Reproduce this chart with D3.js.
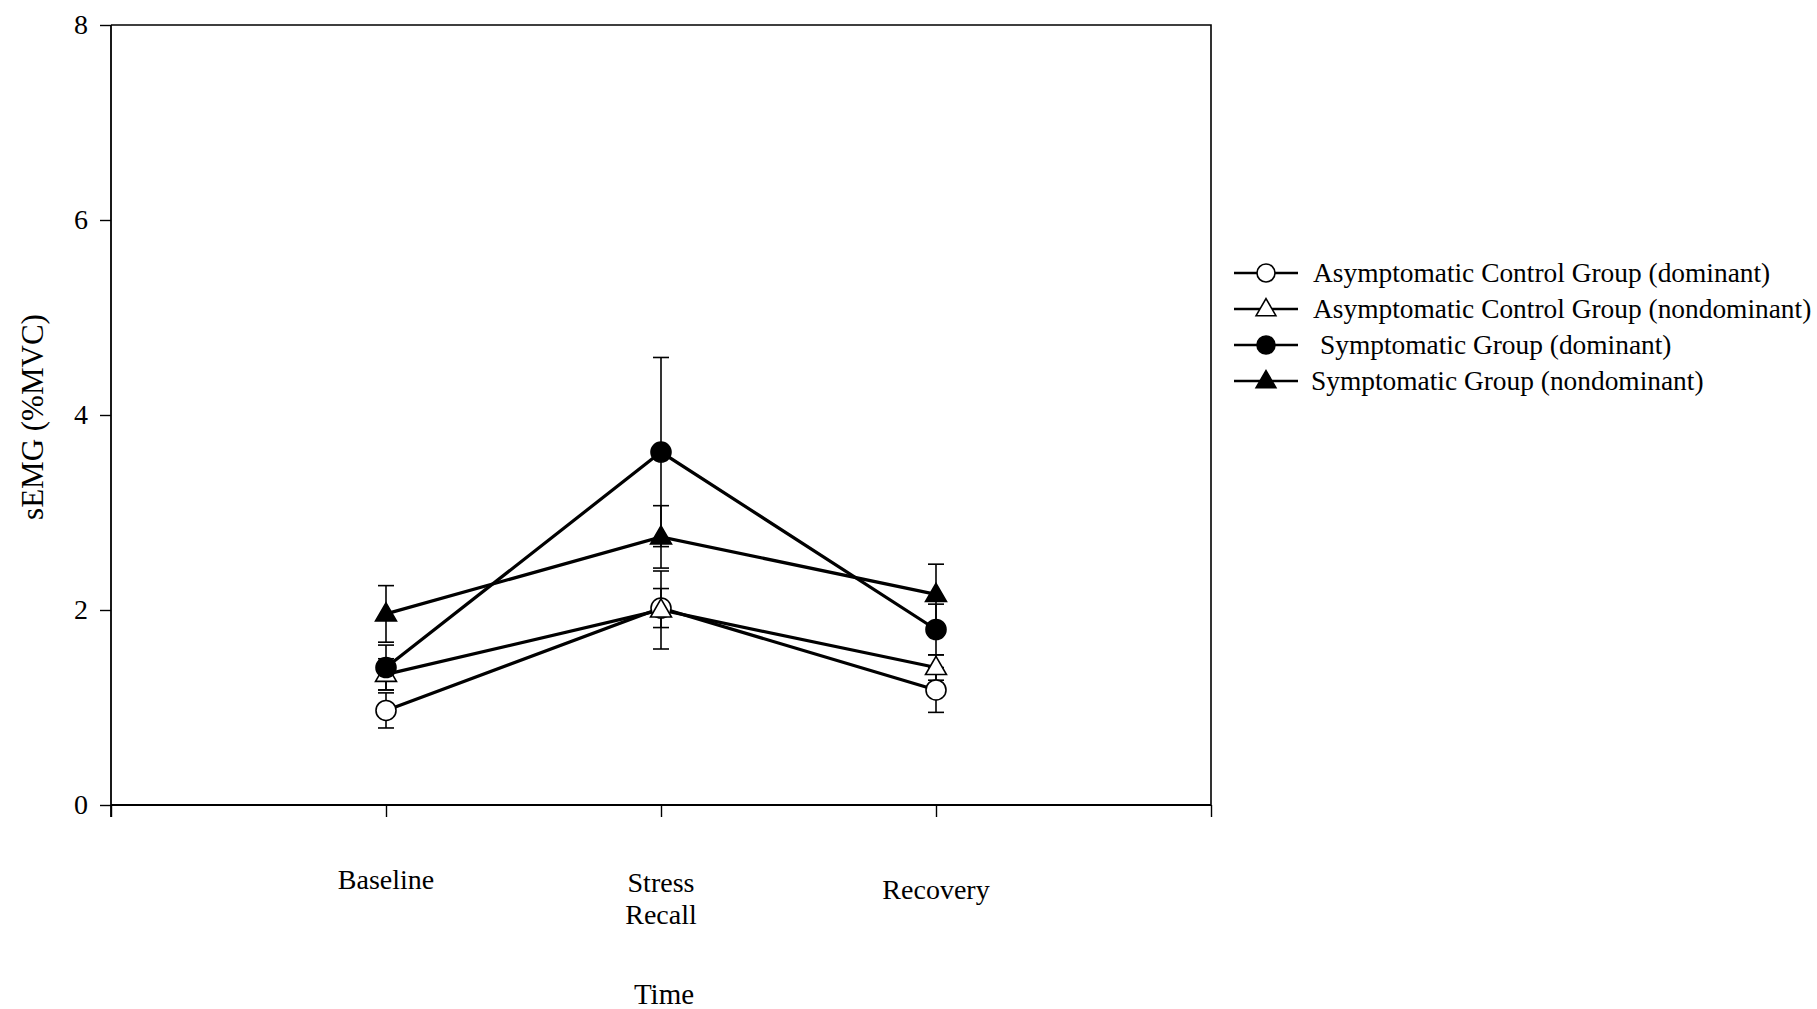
<!DOCTYPE html>
<html>
<head>
<meta charset="utf-8">
<script src="https://cdn.jsdelivr.net/npm/d3@7"></script>
<style>
  body { margin: 0; background: #fff; }
  text { font-family: "Liberation Serif", "Times New Roman", serif; fill: #000; }
</style>
</head>
<body>
<script>
// data
const phases = ['Baseline', 'Stress Recall', 'Recovery'];
const seriesNames = [
  'Asymptomatic Control Group (dominant)',
  'Asymptomatic Control Group (nondominant)',
  'Symptomatic Group (dominant)',
  'Symptomatic Group (nondominant)'];

const ctrlDom = [0.97, 2.02, 1.18];
const ctrlDomErr = [0.18, 0.20, 0.23];
const ctrlNon = [1.34, 2.00, 1.41];
const ctrlNonErr = [0.16, 0.40, 0.13];
const sympDom = [1.41, 3.62, 1.80];
const sympDomErr = [0.23, 0.97, 0.26];
const sympNon = [1.96, 2.75, 2.16];
const sympNonErr = [0.29, 0.32, 0.31];

const yTicks = [0, 2, 4, 6, 8];

const W = 1817, H = 1009;

const margin = {
  t: 25,
  l: 111,
  r: 606,
  b: 204 };

const w = W - margin.l - margin.r;
const h = H - margin.t - margin.b;

const svg = d3.select('body').
append('svg').
attr('width', W).
attr('height', H);

const series = [
  { name: seriesNames[0], v: ctrlDom, e: ctrlDomErr, shape: 'circle', fill: '#fff' },
  { name: seriesNames[1], v: ctrlNon, e: ctrlNonErr, shape: 'triangle', fill: '#fff' },
  { name: seriesNames[2], v: sympDom, e: sympDomErr, shape: 'circle', fill: '#000' },
  { name: seriesNames[3], v: sympNon, e: sympNonErr, shape: 'triangle', fill: '#000' }];

// x has 5 slots, phases sit at 1..3
const xScale = d3.scaleLinear().domain([0, phases.length + 1]).range([0, w]);
const yScale = d3.scaleLinear().domain([0, 8]).range([h, 0]);

const g = svg.append('g').
attr('transform', 'translate(' + margin.l + ',' + margin.t + ')');

// frame: top and right edges
g.append('path').
attr('d', 'M0,0H' + w + 'V' + h).
attr('fill', 'none').
attr('stroke', '#000').
attr('stroke-width', 1.6);

const yAxis = d3.axisLeft(yScale).tickValues(yTicks).tickSize(11).tickPadding(12);
const yG = g.append('g').call(yAxis);
yG.select('.domain').attr('d', 'M0,0V' + (h + 12)).attr('stroke-width', 1.8);
yG.selectAll('.tick line').attr('stroke-width', 1.4);
yG.selectAll('.tick text').style('font-size', '28px').style('font-family', '"Liberation Serif", serif');

const xAxis = d3.axisBottom(xScale).tickValues(d3.range(0, phases.length + 2)).tickSize(12).tickFormat('');
const xG = g.append('g').attr('transform', 'translate(0,' + h + ')').call(xAxis);
xG.select('.domain').attr('d', 'M0,0H' + w).attr('stroke-width', 1.8);
xG.selectAll('.tick line').attr('stroke-width', 1.4);

// phase labels, placed well below the axis like the original
const labelDy = [84, 87, 94];
phases.forEach((p, i) => {
  const t = g.append('text').
  attr('x', xScale(i + 1)).
  attr('y', h + labelDy[i]).
  attr('text-anchor', 'middle').
  style('font-size', '28px');
  p.split(' ').forEach((word, k) => {
    t.append('tspan').attr('x', xScale(i + 1)).attr('dy', k ? 32 : 0).text(word);
  });
});

svg.append('text').
attr('x', margin.l + xScale(2) + 3).
attr('y', 1004).
attr('text-anchor', 'middle').
style('font-size', '29px').
text('Time');

svg.append('text').
attr('transform', 'translate(43,417) rotate(-90)').
attr('text-anchor', 'middle').
style('font-size', '31px').
text('sEMG (%MVC)');

const tri = d3.symbol().type(d3.symbolTriangle).size(190);
const triLegend = d3.symbol().type(d3.symbolTriangle).size(170);

// error bars
series.forEach(s => {
  s.v.forEach((v, i) => {
    const x = xScale(i + 1);
    const y1 = yScale(v + s.e[i]);
    const y2 = yScale(v - s.e[i]);
    g.append('line').attr('x1', x).attr('x2', x).attr('y1', y1).attr('y2', y2).
    attr('stroke', '#000').attr('stroke-width', 1.6);
    [y1, y2].forEach(yy => {
      g.append('line').attr('x1', x - 8).attr('x2', x + 8).attr('y1', yy).attr('y2', yy).
      attr('stroke', '#000').attr('stroke-width', 1.6);
    });
  });
});

// lines
const line = d3.line().
x((d, i) => xScale(i + 1)).
y(d => yScale(d));

series.forEach(s => {
  g.append('path').
  datum(s.v).
  attr('d', line).
  attr('fill', 'none').
  attr('stroke', '#000').
  attr('stroke-width', 3.2);
});

// markers
function drawMarker(sel, s, x, y, legend) {
  if (s.shape === 'circle') {
    sel.append('circle').
    attr('cx', x).
    attr('cy', y).
    attr('r', legend ? 9 : 10).
    attr('fill', s.fill).
    attr('stroke', '#000').
    attr('stroke-width', 1.6);
  } else {
    sel.append('path').
    attr('d', legend ? triLegend : tri).
    attr('transform', 'translate(' + x + ',' + (y + 1) + ')').
    attr('fill', s.fill).
    attr('stroke', '#000').
    attr('stroke-width', 1.6);
  }
}

series.forEach(s => {
  s.v.forEach((v, i) => drawMarker(g, s, xScale(i + 1), yScale(v), false));
});

// legend
const legend = svg.append('g').attr('transform', 'translate(1234,273)');
const textX = [79, 79, 86, 77];
series.forEach((s, i) => {
  const row = legend.append('g').attr('transform', 'translate(0,' + i * 36 + ')');
  row.append('line').
  attr('x1', 0).attr('x2', 64).attr('y1', 0).attr('y2', 0).
  attr('stroke', '#000').attr('stroke-width', 2.4);
  drawMarker(row, s, 32, 0, true);
  row.append('text').
  attr('x', textX[i]).
  attr('y', 9).
  style('font-size', '27.4px').
  text(s.name);
});
</script>
</body>
</html>
